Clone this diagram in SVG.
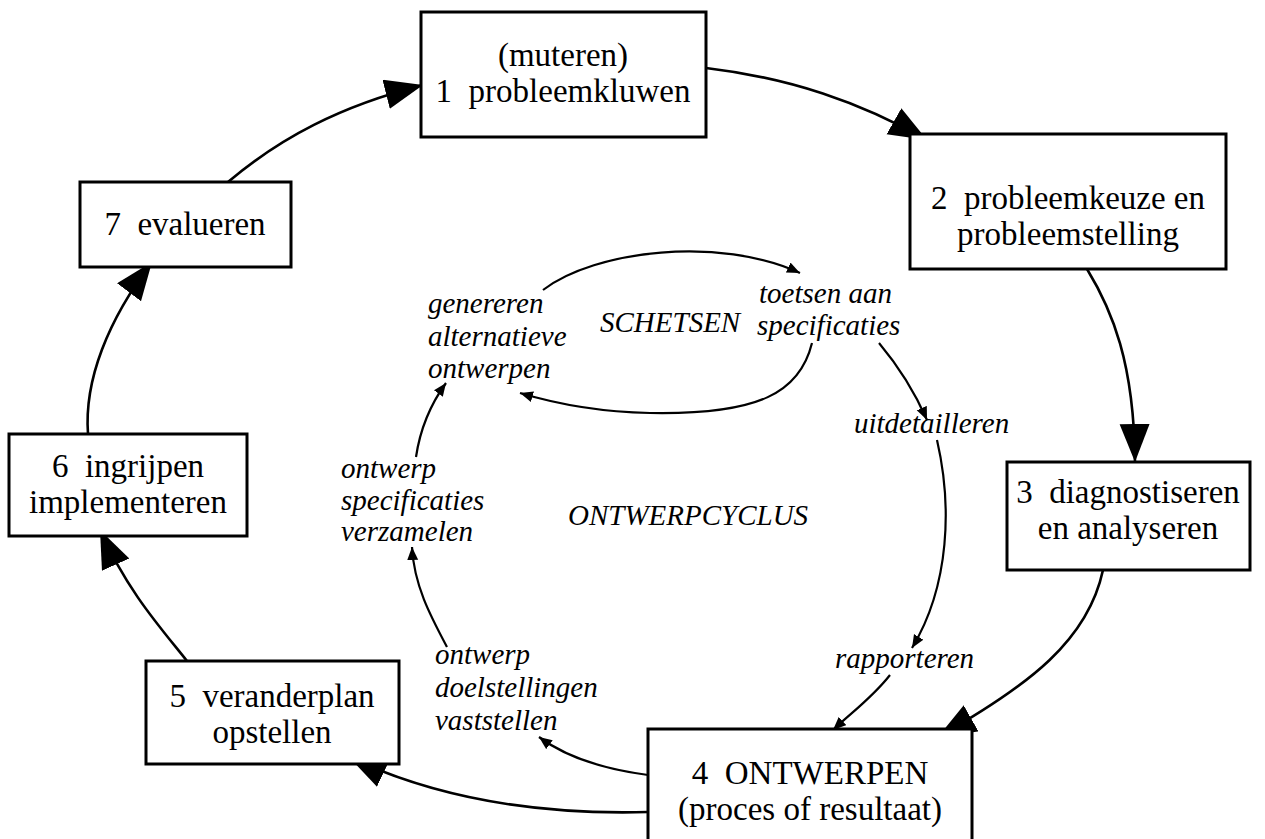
<svg xmlns="http://www.w3.org/2000/svg" width="1265" height="839" viewBox="0 0 1265 839">
  <style>
    .box { fill: #ffffff; stroke: #000000; stroke-width: 3; }
    .lbl { font-family: "Liberation Serif", "Times New Roman", serif; font-size: 33px; fill: #000000; text-anchor: middle; white-space: pre; }
    .it { font-family: "Liberation Serif", "Times New Roman", serif; font-size: 29px; font-style: italic; fill: #000000; white-space: pre; }
    .big { fill: none; stroke: #000000; stroke-width: 2.6; }
    .thin { fill: none; stroke: #000000; stroke-width: 2.2; }
  </style>
  <defs>
    <marker id="headBig" markerUnits="userSpaceOnUse" markerWidth="40" markerHeight="32" refX="38" refY="15" orient="auto">
      <path d="M0,0 L38,15 L0,30 Z" fill="#000000"/>
    </marker>
    <marker id="headSmall" markerUnits="userSpaceOnUse" markerWidth="14" markerHeight="12" refX="13" refY="5.5" orient="auto">
      <path d="M0,0 L13,5.5 L0,11 Z" fill="#000000"/>
    </marker>
  </defs>

  <rect width="1265" height="839" fill="#ffffff"/>

  <!-- outer cycle and inner design cycle connectors -->
  <g id="connectors">
    <path class="big" d="M228,182 C280,138 340,106 423,85" marker-end="url(#headBig)"/>
    <path class="big" d="M706,68 C790,78 860,102 927,140" marker-end="url(#headBig)"/>
    <path class="big" d="M1087,269 C1112,310 1134,362 1135,462" marker-end="url(#headBig)"/>
    <path class="big" d="M1103,570 C1088,640 1030,685 938,737" marker-end="url(#headBig)"/>
    <path class="big" d="M648,812 C540,815 440,800 349,757" marker-end="url(#headBig)"/>
    <path class="big" d="M187,661 C160,627 128,592 100,530" marker-end="url(#headBig)"/>
    <path class="big" d="M88,434 C84,380 108,320 152,262" marker-end="url(#headBig)"/>

    <path class="thin" d="M543,290 C595,250 720,236 800,273" marker-end="url(#headSmall)"/>
    <path class="thin" d="M812,343 C800,392 760,415 650,413 C600,412 560,405 520,393" marker-end="url(#headSmall)"/>
    <path class="thin" d="M879,343 C900,368 916,395 927,420" marker-end="url(#headSmall)"/>
    <path class="thin" d="M937,440 C952,505 950,585 912,648" marker-end="url(#headSmall)"/>
    <path class="thin" d="M890,675 C872,698 852,712 833,730" marker-end="url(#headSmall)"/>
    <path class="thin" d="M648,775 C610,770 570,760 539,737" marker-end="url(#headSmall)"/>
    <path class="thin" d="M447,647 C430,615 414,585 412,547" marker-end="url(#headSmall)"/>
    <path class="thin" d="M416,457 C420,430 430,405 446,383" marker-end="url(#headSmall)"/>
  </g>

  <g id="node1">
    <rect class="box" x="421" y="12" width="285" height="125"/>
    <text class="lbl" x="563" y="66">(muteren)</text>
    <text class="lbl" x="563" y="102">1  probleemkluwen</text>
  </g>
  <g id="node2">
    <rect class="box" x="910" y="134" width="316" height="135"/>
    <text class="lbl" x="1068" y="209">2  probleemkeuze en</text>
    <text class="lbl" x="1068" y="245">probleemstelling</text>
  </g>
  <g id="node3">
    <rect class="box" x="1007" y="462" width="243" height="108"/>
    <text class="lbl" x="1128" y="503">3  diagnostiseren</text>
    <text class="lbl" x="1128" y="539">en analyseren</text>
  </g>
  <g id="node4">
    <rect class="box" x="648" y="729" width="324" height="125"/>
    <text class="lbl" x="810" y="784">4  ONTWERPEN</text>
    <text class="lbl" x="810" y="820">(proces of resultaat)</text>
  </g>
  <g id="node5">
    <rect class="box" x="146" y="661" width="253" height="103"/>
    <text class="lbl" x="272" y="707">5  veranderplan</text>
    <text class="lbl" x="272" y="743">opstellen</text>
  </g>
  <g id="node6">
    <rect class="box" x="9" y="434" width="238" height="102"/>
    <text class="lbl" x="128" y="477">6  ingrijpen</text>
    <text class="lbl" x="128" y="513">implementeren</text>
  </g>
  <g id="node7">
    <rect class="box" x="80" y="182" width="211" height="85"/>
    <text class="lbl" x="185" y="235">7  evalueren</text>
  </g>

  <g id="inner-labels">
    <text class="it" x="428" y="313">genereren</text>
    <text class="it" x="428" y="346">alternatieve</text>
    <text class="it" x="428" y="378">ontwerpen</text>
    <text class="it" x="600" y="332">SCHETSEN</text>
    <text class="it" x="759" y="303">toetsen aan</text>
    <text class="it" x="757" y="335">specificaties</text>
    <text class="it" x="854" y="433">uitdetailleren</text>
    <text class="it" x="568" y="525">ONTWERPCYCLUS</text>
    <text class="it" x="341" y="478">ontwerp</text>
    <text class="it" x="341" y="510">specificaties</text>
    <text class="it" x="341" y="541">verzamelen</text>
    <text class="it" x="835" y="668">rapporteren</text>
    <text class="it" x="435" y="664">ontwerp</text>
    <text class="it" x="435" y="697">doelstellingen</text>
    <text class="it" x="435" y="730">vaststellen</text>
  </g>
</svg>
